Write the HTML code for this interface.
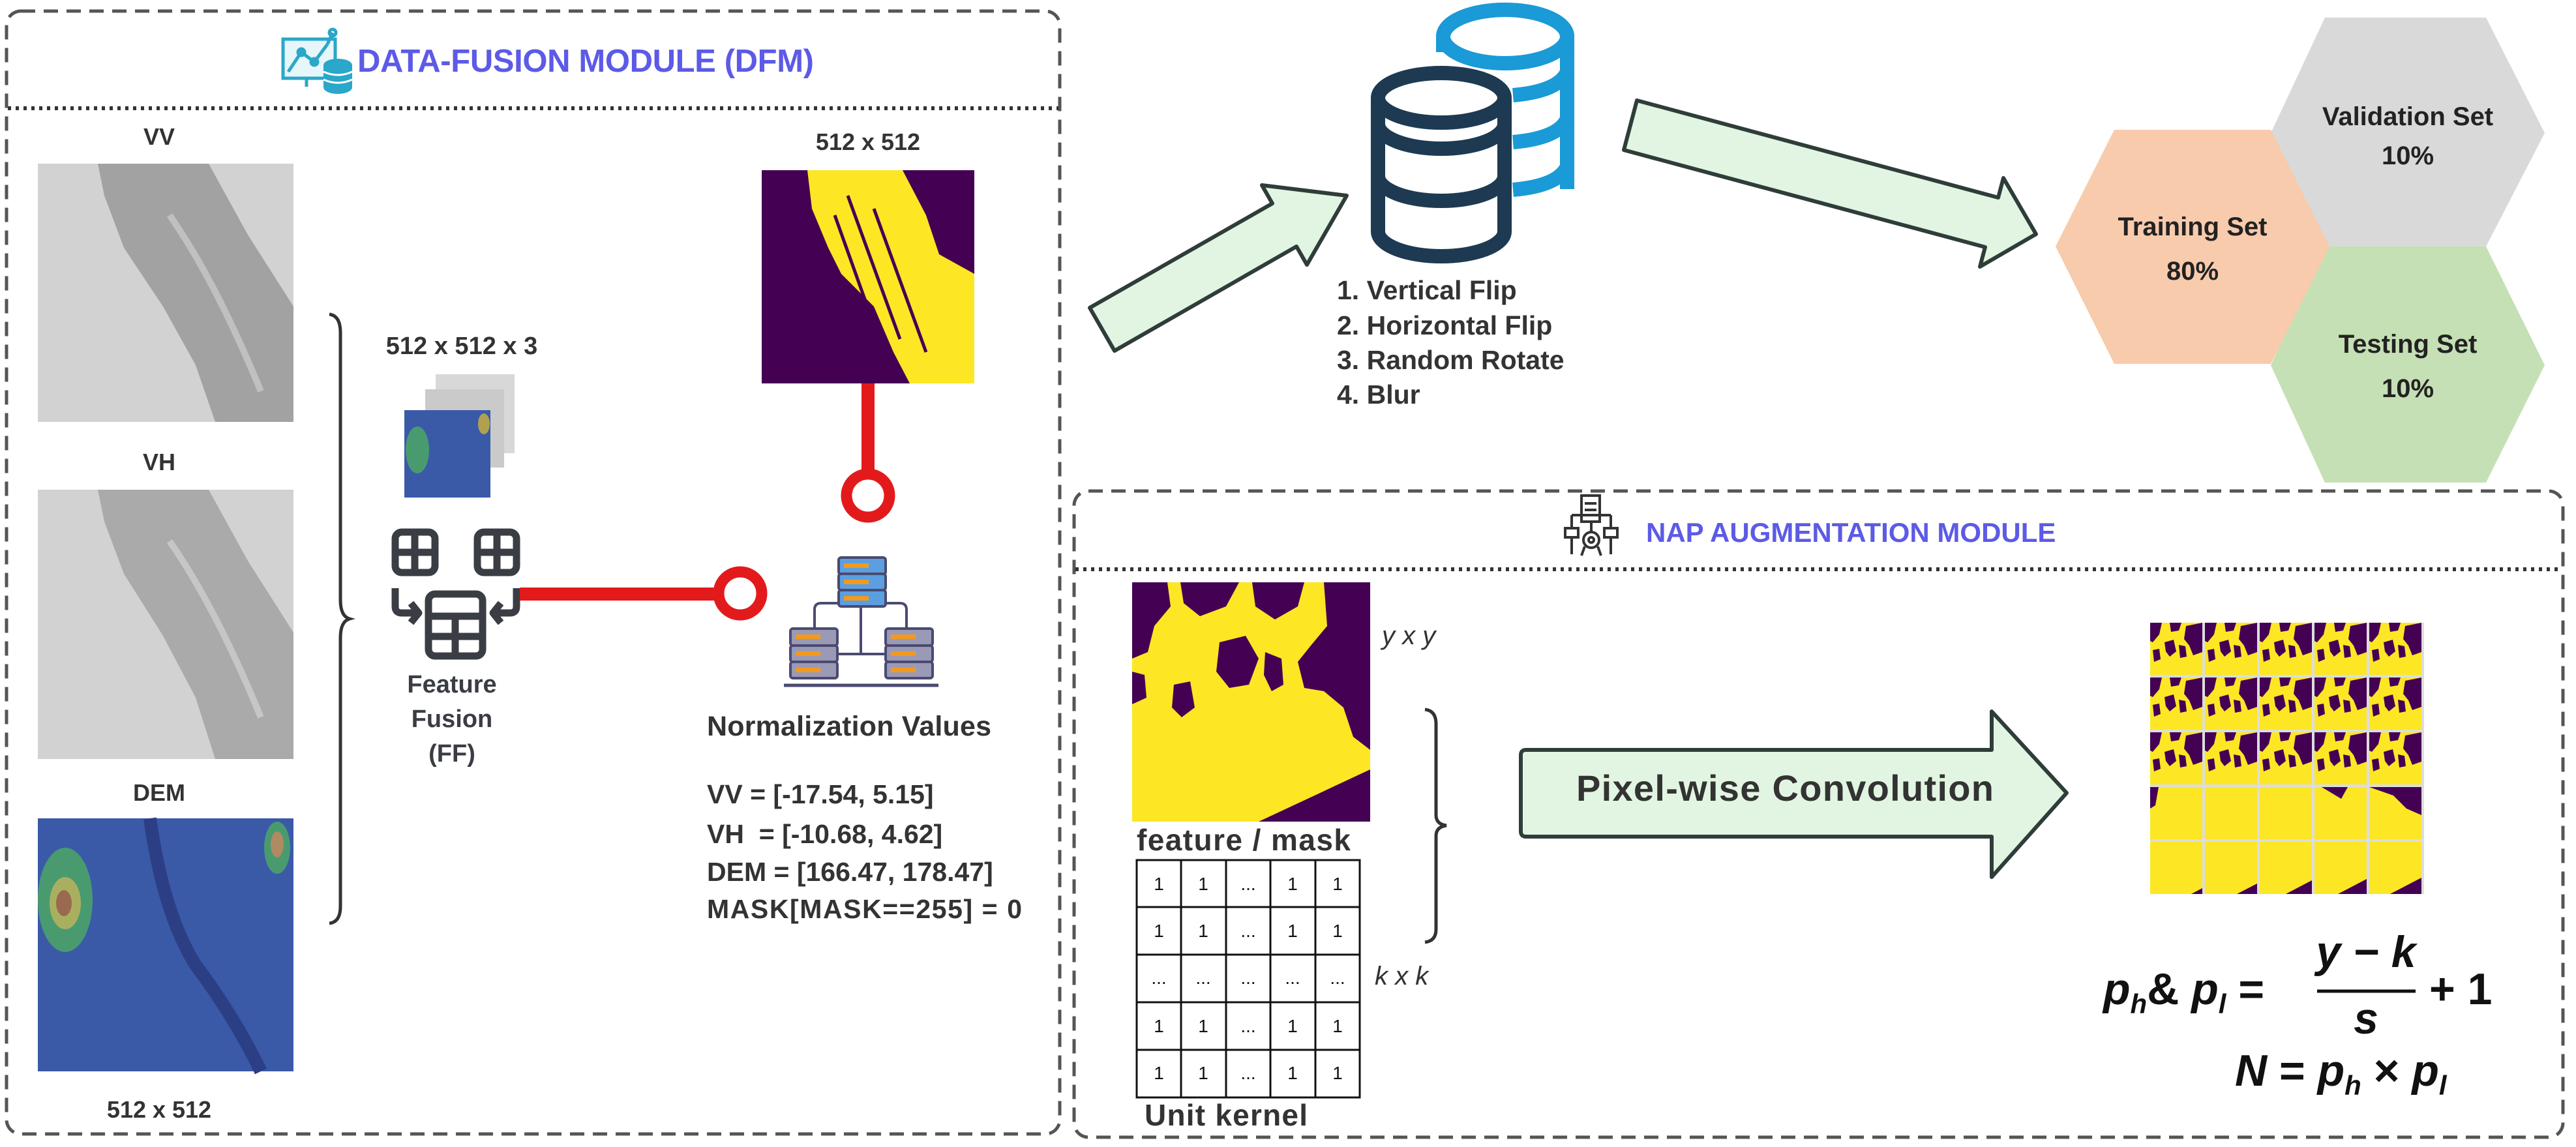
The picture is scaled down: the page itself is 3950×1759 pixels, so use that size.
<!DOCTYPE html>
<html><head><meta charset="utf-8"><style>
html,body{margin:0;padding:0;background:#fff;}
svg{display:block;}
text{font-family:"Liberation Sans",sans-serif;}
</style></head><body>
<svg width="3950" height="1759" viewBox="0 0 3950 1759" xmlns="http://www.w3.org/2000/svg">
<defs>
<g id="tile">
<rect x="0" y="0" width="80" height="80" fill="#fde725"/>
<path d="M0 0 L18 0 L14 18 L4 30 L0 28 Z M30 0 L48 0 L44 12 L32 14 Z M55 5 L80 0 L80 45 L66 50 L60 35 L52 25 Z M22 30 L36 26 L40 44 L30 52 L24 44 Z M4 42 L14 40 L16 56 L6 60 Z M44 34 L54 36 L56 52 L46 54 Z" fill="#440154"/>
</g>
</defs>

<!-- DFM box -->
<rect x="10" y="17" width="1615" height="1722" rx="22" fill="none" stroke="#555" stroke-width="5" stroke-dasharray="22 13"/>
<line x1="12" y1="166" x2="1623" y2="166" stroke="#333" stroke-width="6" stroke-dasharray="5 7"/>
<g stroke="#2aa7c9" stroke-width="5" fill="none">
<rect x="434" y="60" width="80" height="60" fill="#e6f6fb"/>
<polyline points="442,110 462,80 482,95 502,68"/>
<circle cx="462" cy="80" r="5"/><circle cx="482" cy="95" r="5"/><circle cx="510" cy="50" r="5"/>
<line x1="502" y1="68" x2="510" y2="50"/>
<line x1="470" y1="120" x2="470" y2="133"/>
</g>
<g fill="#2aa7c9"><ellipse cx="518" cy="100" rx="22" ry="10"/><rect x="496" y="100" width="44" height="34"/><ellipse cx="518" cy="134" rx="22" ry="10"/></g>
<g stroke="#fff" stroke-width="3" fill="none"><path d="M496 110 Q518 120 540 110"/><path d="M496 122 Q518 132 540 122"/></g>
<text x="548" y="110" font-size="49" font-weight="bold" fill="#5c5ae6" textLength="700">DATA-FUSION MODULE (DFM)</text>

<!-- VV -->
<text x="244" y="222" font-size="36" font-weight="bold" fill="#333" text-anchor="middle">VV</text>
<rect x="58" y="251" width="392" height="396" fill="#d2d2d2"/>
<polygon points="150,251 320,251 380,360 450,470 450,647 330,647 300,560 250,470 190,380 160,300" fill="#a2a2a2"/>
<path d="M260 330 Q330 430 400 600" stroke="#c0c0c0" stroke-width="10" fill="none"/>
<!-- VH -->
<text x="244" y="721" font-size="36" font-weight="bold" fill="#333" text-anchor="middle">VH</text>
<rect x="58" y="751" width="392" height="413" fill="#d2d2d2"/>
<polygon points="150,751 320,751 380,860 450,970 450,1164 330,1164 300,1070 250,975 190,880 160,800" fill="#aaaaaa"/>
<path d="M260 830 Q330 930 400 1100" stroke="#c6c6c6" stroke-width="10" fill="none"/>
<!-- DEM -->
<text x="244" y="1228" font-size="36" font-weight="bold" fill="#333" text-anchor="middle">DEM</text>
<rect x="58" y="1255" width="392" height="388" fill="#3a5aa8"/>
<ellipse cx="100" cy="1380" rx="42" ry="80" fill="#4a9a70"/>
<ellipse cx="100" cy="1385" rx="24" ry="40" fill="#a8b060"/>
<ellipse cx="98" cy="1385" rx="12" ry="20" fill="#9a6a50"/>
<ellipse cx="425" cy="1300" rx="20" ry="40" fill="#4a9a70"/>
<ellipse cx="425" cy="1295" rx="10" ry="20" fill="#b08a60"/>
<path d="M230 1255 Q250 1400 300 1480 Q360 1560 400 1643" stroke="#2c3f85" stroke-width="20" fill="none"/>
<text x="244" y="1714" font-size="36" font-weight="bold" fill="#333" text-anchor="middle">512 x 512</text>

<path d="M505 482 Q522 484 522 510 L522 920 Q522 945 536 949 Q522 953 522 978 L522 1390 Q522 1414 505 1416" stroke="#333" stroke-width="5" fill="none"/>

<text x="708" y="543" font-size="38" font-weight="bold" fill="#333" text-anchor="middle">512 x 512 x 3</text>
<rect x="668" y="574" width="121" height="121" fill="#d8d8d8"/>
<rect x="652" y="597" width="121" height="120" fill="#cacaca"/>
<rect x="620" y="629" width="132" height="134" fill="#3a5aa8"/>
<ellipse cx="640" cy="690" rx="18" ry="36" fill="#4a9a70"/>
<ellipse cx="742" cy="650" rx="9" ry="16" fill="#b0a050"/>

<g stroke="#3a3d44" stroke-width="11" fill="none" stroke-linejoin="round">
<rect x="606" y="816" width="61" height="62" rx="10"/><line x1="636" y1="816" x2="636" y2="878"/><line x1="606" y1="847" x2="667" y2="847"/>
<rect x="732" y="816" width="60" height="62" rx="10"/><line x1="762" y1="816" x2="762" y2="878"/><line x1="732" y1="847" x2="792" y2="847"/>
<rect x="657" y="911" width="83" height="95" rx="10"/><line x1="698" y1="945" x2="698" y2="1006"/><line x1="657" y1="945" x2="740" y2="945"/><line x1="657" y1="976" x2="740" y2="976"/>
<path d="M606 902 L606 930 Q606 940 616 940 L640 940"/><path d="M630 925 L642 940 L630 955"/>
<path d="M792 902 L792 930 Q792 940 782 940 L758 940"/><path d="M768 925 L756 940 L768 955"/>
</g>
<g font-size="38" font-weight="bold" fill="#3a3d44" text-anchor="middle">
<text x="693" y="1062">Feature</text><text x="693" y="1115">Fusion</text><text x="693" y="1168">(FF)</text></g>

<rect x="797" y="901" width="306" height="20" fill="#e31a1c"/>
<circle cx="1135" cy="910" r="33" fill="#fff" stroke="#e31a1c" stroke-width="17"/>
<rect x="1321" y="588" width="20" height="138" fill="#e31a1c"/>
<circle cx="1331" cy="760" r="33" fill="#fff" stroke="#e31a1c" stroke-width="17"/>

<text x="1331" y="230" font-size="36" font-weight="bold" fill="#333" text-anchor="middle">512 x 512</text>
<rect x="1168" y="261" width="326" height="327" fill="#440154"/>
<polygon points="1238,261 1384,261 1420,330 1440,390 1494,420 1494,588 1395,588 1370,540 1340,470 1290,420 1270,380 1245,320" fill="#fde725"/>
<g stroke="#440154" stroke-width="5"><line x1="1280" y1="330" x2="1330" y2="470"/><line x1="1300" y1="300" x2="1380" y2="520"/><line x1="1340" y1="320" x2="1420" y2="540"/></g>

<g stroke="#4a4a72" stroke-width="4" fill="none"><path d="M1249 1005 L1249 935 Q1249 925 1259 925 L1290 925"/><path d="M1390 1005 L1390 935 Q1390 925 1380 925 L1360 925"/><line x1="1320" y1="925" x2="1320" y2="1003"/><line x1="1280" y1="1003" x2="1360" y2="1003"/><line x1="1202" y1="1051" x2="1439" y2="1051" stroke-width="5"/></g>
<g stroke="#4a4a72" stroke-width="4">
<rect x="1286" y="855" width="72" height="26" rx="4" fill="#5b9fe0"/><rect x="1286" y="880" width="72" height="25" rx="4" fill="#5b9fe0"/><rect x="1286" y="905" width="72" height="25" rx="4" fill="#5b9fe0"/>
<rect x="1212" y="964" width="72" height="26" rx="4" fill="#9a9ab6"/><rect x="1212" y="990" width="72" height="25" rx="4" fill="#9a9ab6"/><rect x="1212" y="1015" width="72" height="25" rx="4" fill="#9a9ab6"/>
<rect x="1358" y="964" width="72" height="26" rx="4" fill="#9a9ab6"/><rect x="1358" y="990" width="72" height="25" rx="4" fill="#9a9ab6"/><rect x="1358" y="1015" width="72" height="25" rx="4" fill="#9a9ab6"/>
</g>
<g fill="#f29a1f"><rect x="1294" y="864" width="38" height="7"/><rect x="1294" y="889" width="38" height="7"/><rect x="1294" y="914" width="38" height="7"/>
<rect x="1220" y="973" width="38" height="7"/><rect x="1220" y="999" width="38" height="7"/><rect x="1220" y="1024" width="38" height="7"/>
<rect x="1366" y="973" width="38" height="7"/><rect x="1366" y="999" width="38" height="7"/><rect x="1366" y="1024" width="38" height="7"/></g>

<text x="1084" y="1128" font-size="43" font-weight="bold" fill="#333" textLength="436">Normalization Values</text>
<g font-size="41" font-weight="bold" fill="#333">
<text x="1084" y="1232">VV = [-17.54, 5.15]</text>
<text x="1084" y="1293">VH&#160; = [-10.68, 4.62]</text>
<text x="1084" y="1351">DEM = [166.47, 178.47]</text>
<text x="1084" y="1408" textLength="483">MASK[MASK==255] = 0</text>
</g>

<g fill="none">
<path d="M2213 80 L2213 56 A95 41 0 0 1 2403 56 L2403 290" stroke="#1a9ad6" stroke-width="22"/>
<ellipse cx="2308" cy="56" rx="95" ry="41" stroke="#1a9ad6" stroke-width="22"/>
<path d="M2320 146 Q2390 140 2403 110" stroke="#1a9ad6" stroke-width="22"/>
<path d="M2320 218 Q2390 212 2403 182" stroke="#1a9ad6" stroke-width="22"/>
<path d="M2320 291 Q2390 285 2403 255" stroke="#1a9ad6" stroke-width="22"/>
</g>
<path d="M2113 150 L2113 355 A97 38 0 0 0 2307 355 L2307 150 Z" fill="#fff"/>
<ellipse cx="2210" cy="150" rx="97" ry="38" fill="#fff"/>
<g fill="none" stroke="#1e3a52" stroke-width="22">
<ellipse cx="2210" cy="150" rx="97" ry="38"/>
<path d="M2113 150 L2113 355 A97 38 0 0 0 2307 355 L2307 150"/>
<path d="M2113 190 A97 38 0 0 0 2307 190"/>
<path d="M2113 270 A97 38 0 0 0 2307 270"/>
</g>
<g font-size="41" font-weight="bold" fill="#333">
<text x="2050" y="459">1. Vertical Flip</text>
<text x="2050" y="513">2. Horizontal Flip</text>
<text x="2050" y="566">3. Random Rotate</text>
<text x="2050" y="619">4. Blur</text>
</g>

<polygon points="1671,472 1951,312 1935,284 2065,300 2004,406 1988,378 1709,538" fill="#e2f5e2" stroke="#2f3d3a" stroke-width="6" stroke-linejoin="round"/>
<polygon points="2510,154 3064,303 3072,273 3122,359 3036,409 3044,379 2490,230" fill="#e2f5e2" stroke="#2f3d3a" stroke-width="6" stroke-linejoin="round"/>

<polygon points="3565,27 3812,27 3902,204 3812,378 3565,378 3482,204" fill="#d9d9d9"/>
<polygon points="3565,378 3812,378 3902,560 3812,740 3565,740 3482,560" fill="#c5e0b4"/>
<polygon points="3242,199 3482,199 3572,378 3482,558 3242,558 3152,378" fill="#f8cbad"/>
<g font-size="40" font-weight="bold" fill="#222" text-anchor="middle">
<text x="3692" y="192">Validation Set</text><text x="3692" y="252">10%</text>
<text x="3362" y="361">Training Set</text><text x="3362" y="429">80%</text>
<text x="3692" y="541">Testing Set</text><text x="3692" y="609">10%</text>
</g>

<!-- NAP -->
<rect x="1647" y="753" width="2283" height="991" rx="22" fill="none" stroke="#555" stroke-width="5" stroke-dasharray="22 13"/>
<line x1="1649" y1="873" x2="3928" y2="873" stroke="#333" stroke-width="6" stroke-dasharray="5 7"/>
<g stroke="#333" stroke-width="4" fill="none">
<rect x="2425" y="760" width="28" height="40"/><line x1="2430" y1="772" x2="2448" y2="772"/><line x1="2430" y1="782" x2="2448" y2="782"/>
<path d="M2410 790 L2410 810"/><path d="M2470 790 L2470 810"/><path d="M2410 790 L2470 790"/>
<rect x="2400" y="810" width="20" height="14"/><rect x="2460" y="810" width="20" height="14"/>
<circle cx="2440" cy="828" r="12"/><circle cx="2440" cy="828" r="4"/>
<line x1="2440" y1="800" x2="2440" y2="816"/>
<path d="M2410 824 L2410 850"/><path d="M2470 824 L2470 850"/><path d="M2430 838 L2425 852"/><path d="M2450 838 L2455 852"/>
</g>
<text x="2524" y="831" font-size="42" font-weight="bold" fill="#5c5ae6">NAP AUGMENTATION MODULE</text>

<rect x="1736" y="893" width="365" height="367" fill="#fde725"/>
<g fill="#440154">
<path d="M1736 893 L1790 893 L1795 930 L1770 960 L1760 1000 L1736 1010 Z"/>
<path d="M1810 893 L1900 893 L1880 930 L1840 945 L1815 925 Z"/>
<path d="M1920 893 L2000 893 L1990 930 L1955 950 L1925 930 Z"/>
<path d="M2030 893 L2101 893 L2101 1150 L2075 1130 L2060 1085 L2030 1060 L2000 1055 L1990 1015 L2010 990 L2035 960 Z"/>
<path d="M1870 985 L1910 975 L1930 1010 L1915 1050 L1885 1055 L1865 1030 Z"/>
<path d="M1940 1000 L1965 1010 L1968 1050 L1950 1060 L1938 1035 Z"/>
<path d="M1800 1050 L1825 1045 L1832 1085 L1812 1100 L1797 1085 Z"/>
<path d="M1736 1030 L1755 1035 L1758 1070 L1736 1080 Z"/>
<path d="M1930 1260 L2101 1180 L2101 1260 Z"/>
</g>
<text x="2119" y="988" font-size="40" font-style="italic" fill="#333">y x y</text>
<text x="1743" y="1304" font-size="46" font-weight="bold" fill="#333" textLength="328">feature / mask</text>
<rect x="1743" y="1319" width="342" height="364" stroke="#111" stroke-width="3" fill="#fff"/>
<g stroke="#111" stroke-width="3">
<line x1="1811" y1="1319" x2="1811" y2="1683"/><line x1="1880" y1="1319" x2="1880" y2="1683"/><line x1="1948" y1="1319" x2="1948" y2="1683"/><line x1="2017" y1="1319" x2="2017" y2="1683"/>
<line x1="1743" y1="1391" x2="2085" y2="1391"/><line x1="1743" y1="1464" x2="2085" y2="1464"/><line x1="1743" y1="1537" x2="2085" y2="1537"/><line x1="1743" y1="1610" x2="2085" y2="1610"/>
</g>
<g font-size="28" fill="#111" text-anchor="middle">
<text x="1777" y="1365">1</text><text x="1845" y="1365">1</text><text x="1914" y="1365">...</text><text x="1982" y="1365">1</text><text x="2051" y="1365">1</text>
<text x="1777" y="1437">1</text><text x="1845" y="1437">1</text><text x="1914" y="1437">...</text><text x="1982" y="1437">1</text><text x="2051" y="1437">1</text>
<text x="1777" y="1509">...</text><text x="1845" y="1509">...</text><text x="1914" y="1509">...</text><text x="1982" y="1509">...</text><text x="2051" y="1509">...</text>
<text x="1777" y="1583">1</text><text x="1845" y="1583">1</text><text x="1914" y="1583">...</text><text x="1982" y="1583">1</text><text x="2051" y="1583">1</text>
<text x="1777" y="1655">1</text><text x="1845" y="1655">1</text><text x="1914" y="1655">...</text><text x="1982" y="1655">1</text><text x="2051" y="1655">1</text>
</g>
<text x="1755" y="1726" font-size="46" font-weight="bold" fill="#333" textLength="250">Unit kernel</text>
<text x="2108" y="1510" font-size="40" font-style="italic" fill="#333">k x k</text>
<path d="M2185 1088 Q2202 1090 2202 1110 L2202 1250 Q2202 1264 2218 1266 Q2202 1268 2202 1282 L2202 1425 Q2202 1443 2185 1445" stroke="#333" stroke-width="5" fill="none"/>

<path d="M2340 1150 L3054 1150 L3054 1091 L3169 1216 L3054 1345 L3054 1283 L2340 1283 Q2332 1283 2332 1275 L2332 1158 Q2332 1150 2340 1150 Z" fill="#e2f5e2" stroke="#2f3d3a" stroke-width="6" stroke-linejoin="round"/>
<text x="2737" y="1228" font-size="56" font-weight="bold" fill="#333" text-anchor="middle" textLength="640">Pixel-wise Convolution</text>

<rect x="3297" y="955" width="420" height="416" fill="#ddd"/>
<use href="#tile" x="3297" y="955"/><use href="#tile" x="3381" y="955"/><use href="#tile" x="3465" y="955"/><use href="#tile" x="3549" y="955"/><use href="#tile" x="3633" y="955"/>
<use href="#tile" x="3297" y="1039"/><use href="#tile" x="3381" y="1039"/><use href="#tile" x="3465" y="1039"/><use href="#tile" x="3549" y="1039"/><use href="#tile" x="3633" y="1039"/>
<use href="#tile" x="3297" y="1123"/><use href="#tile" x="3381" y="1123"/><use href="#tile" x="3465" y="1123"/><use href="#tile" x="3549" y="1123"/><use href="#tile" x="3633" y="1123"/>
<g fill="#fde725">
<rect x="3297" y="1207" width="80" height="80"/><rect x="3381" y="1207" width="80" height="80"/><rect x="3465" y="1207" width="80" height="80"/><rect x="3549" y="1207" width="80" height="80"/><rect x="3633" y="1207" width="80" height="80"/>
<rect x="3297" y="1291" width="80" height="80"/><rect x="3381" y="1291" width="80" height="80"/><rect x="3465" y="1291" width="80" height="80"/><rect x="3549" y="1291" width="80" height="80"/><rect x="3633" y="1291" width="80" height="80"/>
</g>
<g fill="#440154">
<path d="M3297 1207 L3310 1207 L3305 1235 L3297 1240 Z M3633 1207 L3713 1207 L3713 1250 L3690 1240 L3670 1220 Z M3560 1207 L3600 1207 L3590 1225 Z"/>
<polygon points="3360,1371 3377,1362 3377,1371"/><polygon points="3430,1371 3461,1355 3461,1371"/><polygon points="3505,1371 3545,1350 3545,1371"/><polygon points="3585,1371 3629,1348 3629,1371"/><polygon points="3665,1371 3713,1346 3713,1371"/>
</g>

<g font-family="'Liberation Serif',serif" font-weight="bold" font-style="italic" fill="#111">
<text x="3225" y="1540" font-size="68">p<tspan font-size="42" dy="14">h</tspan><tspan dy="-14" font-style="normal">&amp;</tspan> p<tspan font-size="42" dy="14">l</tspan><tspan dy="-14" font-style="normal"> =</tspan></text>
<text x="3628" y="1483" font-size="68" text-anchor="middle">y − k</text>
<line x1="3553" y1="1520" x2="3704" y2="1520" stroke="#111" stroke-width="5"/>
<text x="3628" y="1585" font-size="68" text-anchor="middle">s</text>
<text x="3725" y="1540" font-size="68" font-style="normal">+ 1</text>
<text x="3427" y="1665" font-size="68">N <tspan font-style="normal">=</tspan> p<tspan font-size="42" dy="14">h</tspan><tspan dy="-14" font-style="normal"> × </tspan>p<tspan font-size="42" dy="14">l</tspan></text>
</g>
</svg>
</body></html>
